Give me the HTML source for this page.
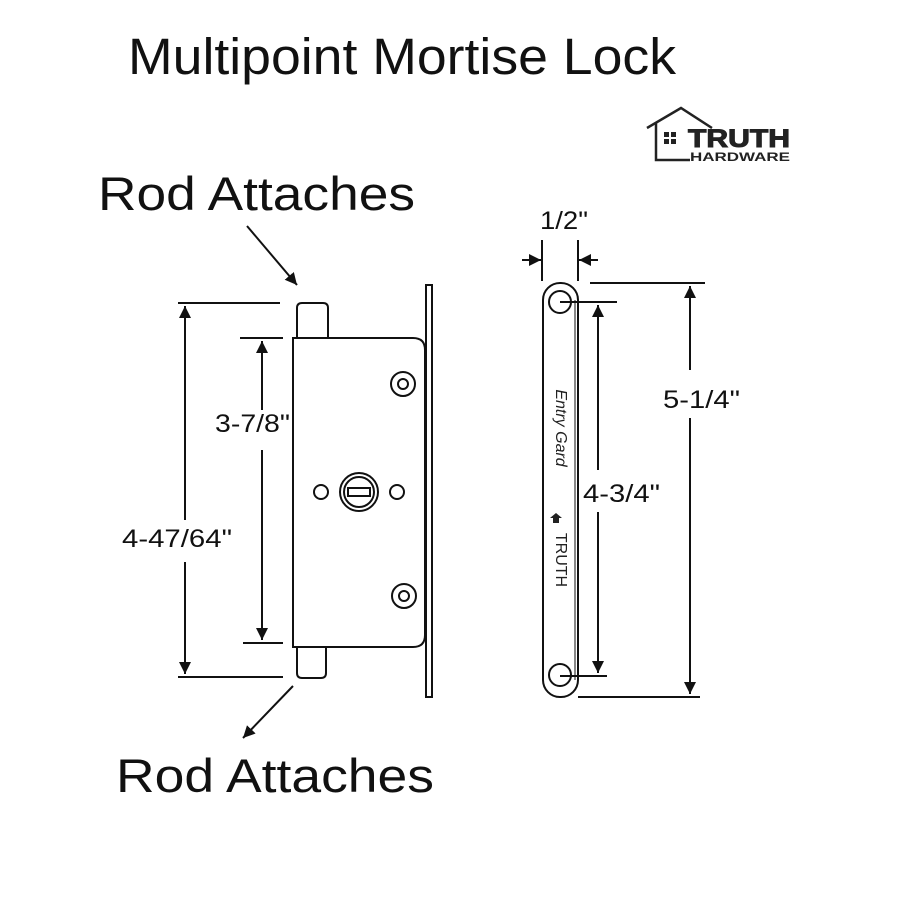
<!DOCTYPE html>
<html><head><style>body{margin:0;background:#fff}svg{display:block}</style></head><body>
<svg width="900" height="900" viewBox="0 0 900 900" xmlns="http://www.w3.org/2000/svg" font-family="Liberation Sans, sans-serif">
<defs>
<marker id="a" viewBox="0 0 10 10" refX="10" refY="5" markerWidth="6" markerHeight="6" orient="auto-start-reverse"><path d="M0,0L10,5L0,10z" fill="#111"/></marker>
</defs>
<rect width="900" height="900" fill="#fff"/>
<text x="128" y="74" font-size="51" textLength="548" lengthAdjust="spacingAndGlyphs" fill="#111">Multipoint Mortise Lock</text>
<text x="98" y="210" font-size="47" textLength="317" lengthAdjust="spacingAndGlyphs" fill="#111">Rod Attaches</text>
<text x="116" y="792" font-size="47" textLength="318" lengthAdjust="spacingAndGlyphs" fill="#111">Rod Attaches</text>

<g fill="none" stroke="#222" stroke-width="2.5">
<path d="M647,128 L681,108 L712,128"/>
<path d="M656,123 L656,160 L690,160"/>
</g>
<g fill="#222"><rect x="664" y="132" width="5" height="5"/><rect x="671" y="132" width="5" height="5"/><rect x="664" y="139" width="5" height="5"/><rect x="671" y="139" width="5" height="5"/></g>
<text x="688" y="147" font-size="25" font-weight="bold" stroke="#222" stroke-width="1" textLength="102" lengthAdjust="spacingAndGlyphs" fill="#222">TRUTH</text>
<text x="690" y="161" font-size="12" font-weight="bold" textLength="100" lengthAdjust="spacingAndGlyphs" fill="#222">HARDWARE</text>

<g fill="none" stroke="#111" stroke-width="2">
<path d="M297,338 V308 Q297,303 302,303 H323 Q328,303 328,308 V338"/>
<path d="M297,647 V673 Q297,678 302,678 H321 Q326,678 326,673 V647"/>
<path d="M293,338 H413 Q425,338 425,350 V635 Q425,647 413,647 H293 Z"/>
<rect x="426" y="285" width="6" height="412"/>
<circle cx="403" cy="384" r="12"/><circle cx="403" cy="384" r="5"/>
<circle cx="404" cy="596" r="12"/><circle cx="404" cy="596" r="5"/>
<circle cx="359" cy="492" r="19"/><circle cx="359" cy="492" r="15"/>
<rect x="348" y="488" width="22" height="8"/>
<circle cx="321" cy="492" r="7"/><circle cx="397" cy="492" r="7"/>
<path d="M178,303H280M178,677H283M240,338H283M243,643H283"/>
<line x1="185" y1="520" x2="185" y2="306" marker-end="url(#a)"/>
<line x1="185" y1="562" x2="185" y2="674" marker-end="url(#a)"/>
<line x1="262" y1="410" x2="262" y2="341" marker-end="url(#a)"/>
<line x1="262" y1="450" x2="262" y2="640" marker-end="url(#a)"/>
<line x1="247" y1="226" x2="297" y2="285" marker-end="url(#a)"/>
<line x1="293" y1="686" x2="243" y2="738" marker-end="url(#a)"/>
<rect x="543" y="283" width="35" height="414" rx="17"/>
<line x1="575" y1="300" x2="575" y2="680" stroke-width="1"/>
<circle cx="560" cy="302" r="11"/><circle cx="560" cy="675" r="11"/>
<path d="M542,240V281M578,240V281"/>
<line x1="522" y1="260" x2="541" y2="260" marker-end="url(#a)"/>
<line x1="598" y1="260" x2="579" y2="260" marker-end="url(#a)"/>
<path d="M560,302H617M560,676H607M590,283H705M578,697H700"/>
<line x1="598" y1="470" x2="598" y2="305" marker-end="url(#a)"/>
<line x1="598" y1="512" x2="598" y2="673" marker-end="url(#a)"/>
<line x1="690" y1="370" x2="690" y2="286" marker-end="url(#a)"/>
<line x1="690" y1="418" x2="690" y2="694" marker-end="url(#a)"/>
</g>
<g font-size="25" fill="#111">
<text x="122" y="547" textLength="110" lengthAdjust="spacingAndGlyphs">4-47/64"</text>
<text x="215" y="432" textLength="75" lengthAdjust="spacingAndGlyphs">3-7/8"</text>
<text x="540" y="229" textLength="48" lengthAdjust="spacingAndGlyphs">1/2"</text>
<text x="583" y="502" textLength="77" lengthAdjust="spacingAndGlyphs">4-3/4"</text>
<text x="663" y="408" textLength="77" lengthAdjust="spacingAndGlyphs">5-1/4"</text>
</g>
<text transform="translate(556,428) rotate(90)" font-size="16" font-style="italic" text-anchor="middle" fill="#222">Entry Gard</text>
<text transform="translate(556,560) rotate(90)" font-size="16" text-anchor="middle" fill="#222">TRUTH</text>
<path d="M556,513 l-6,5 h3 v5 h6 v-5 h3z" fill="#222"/>
</svg>
</body></html>
